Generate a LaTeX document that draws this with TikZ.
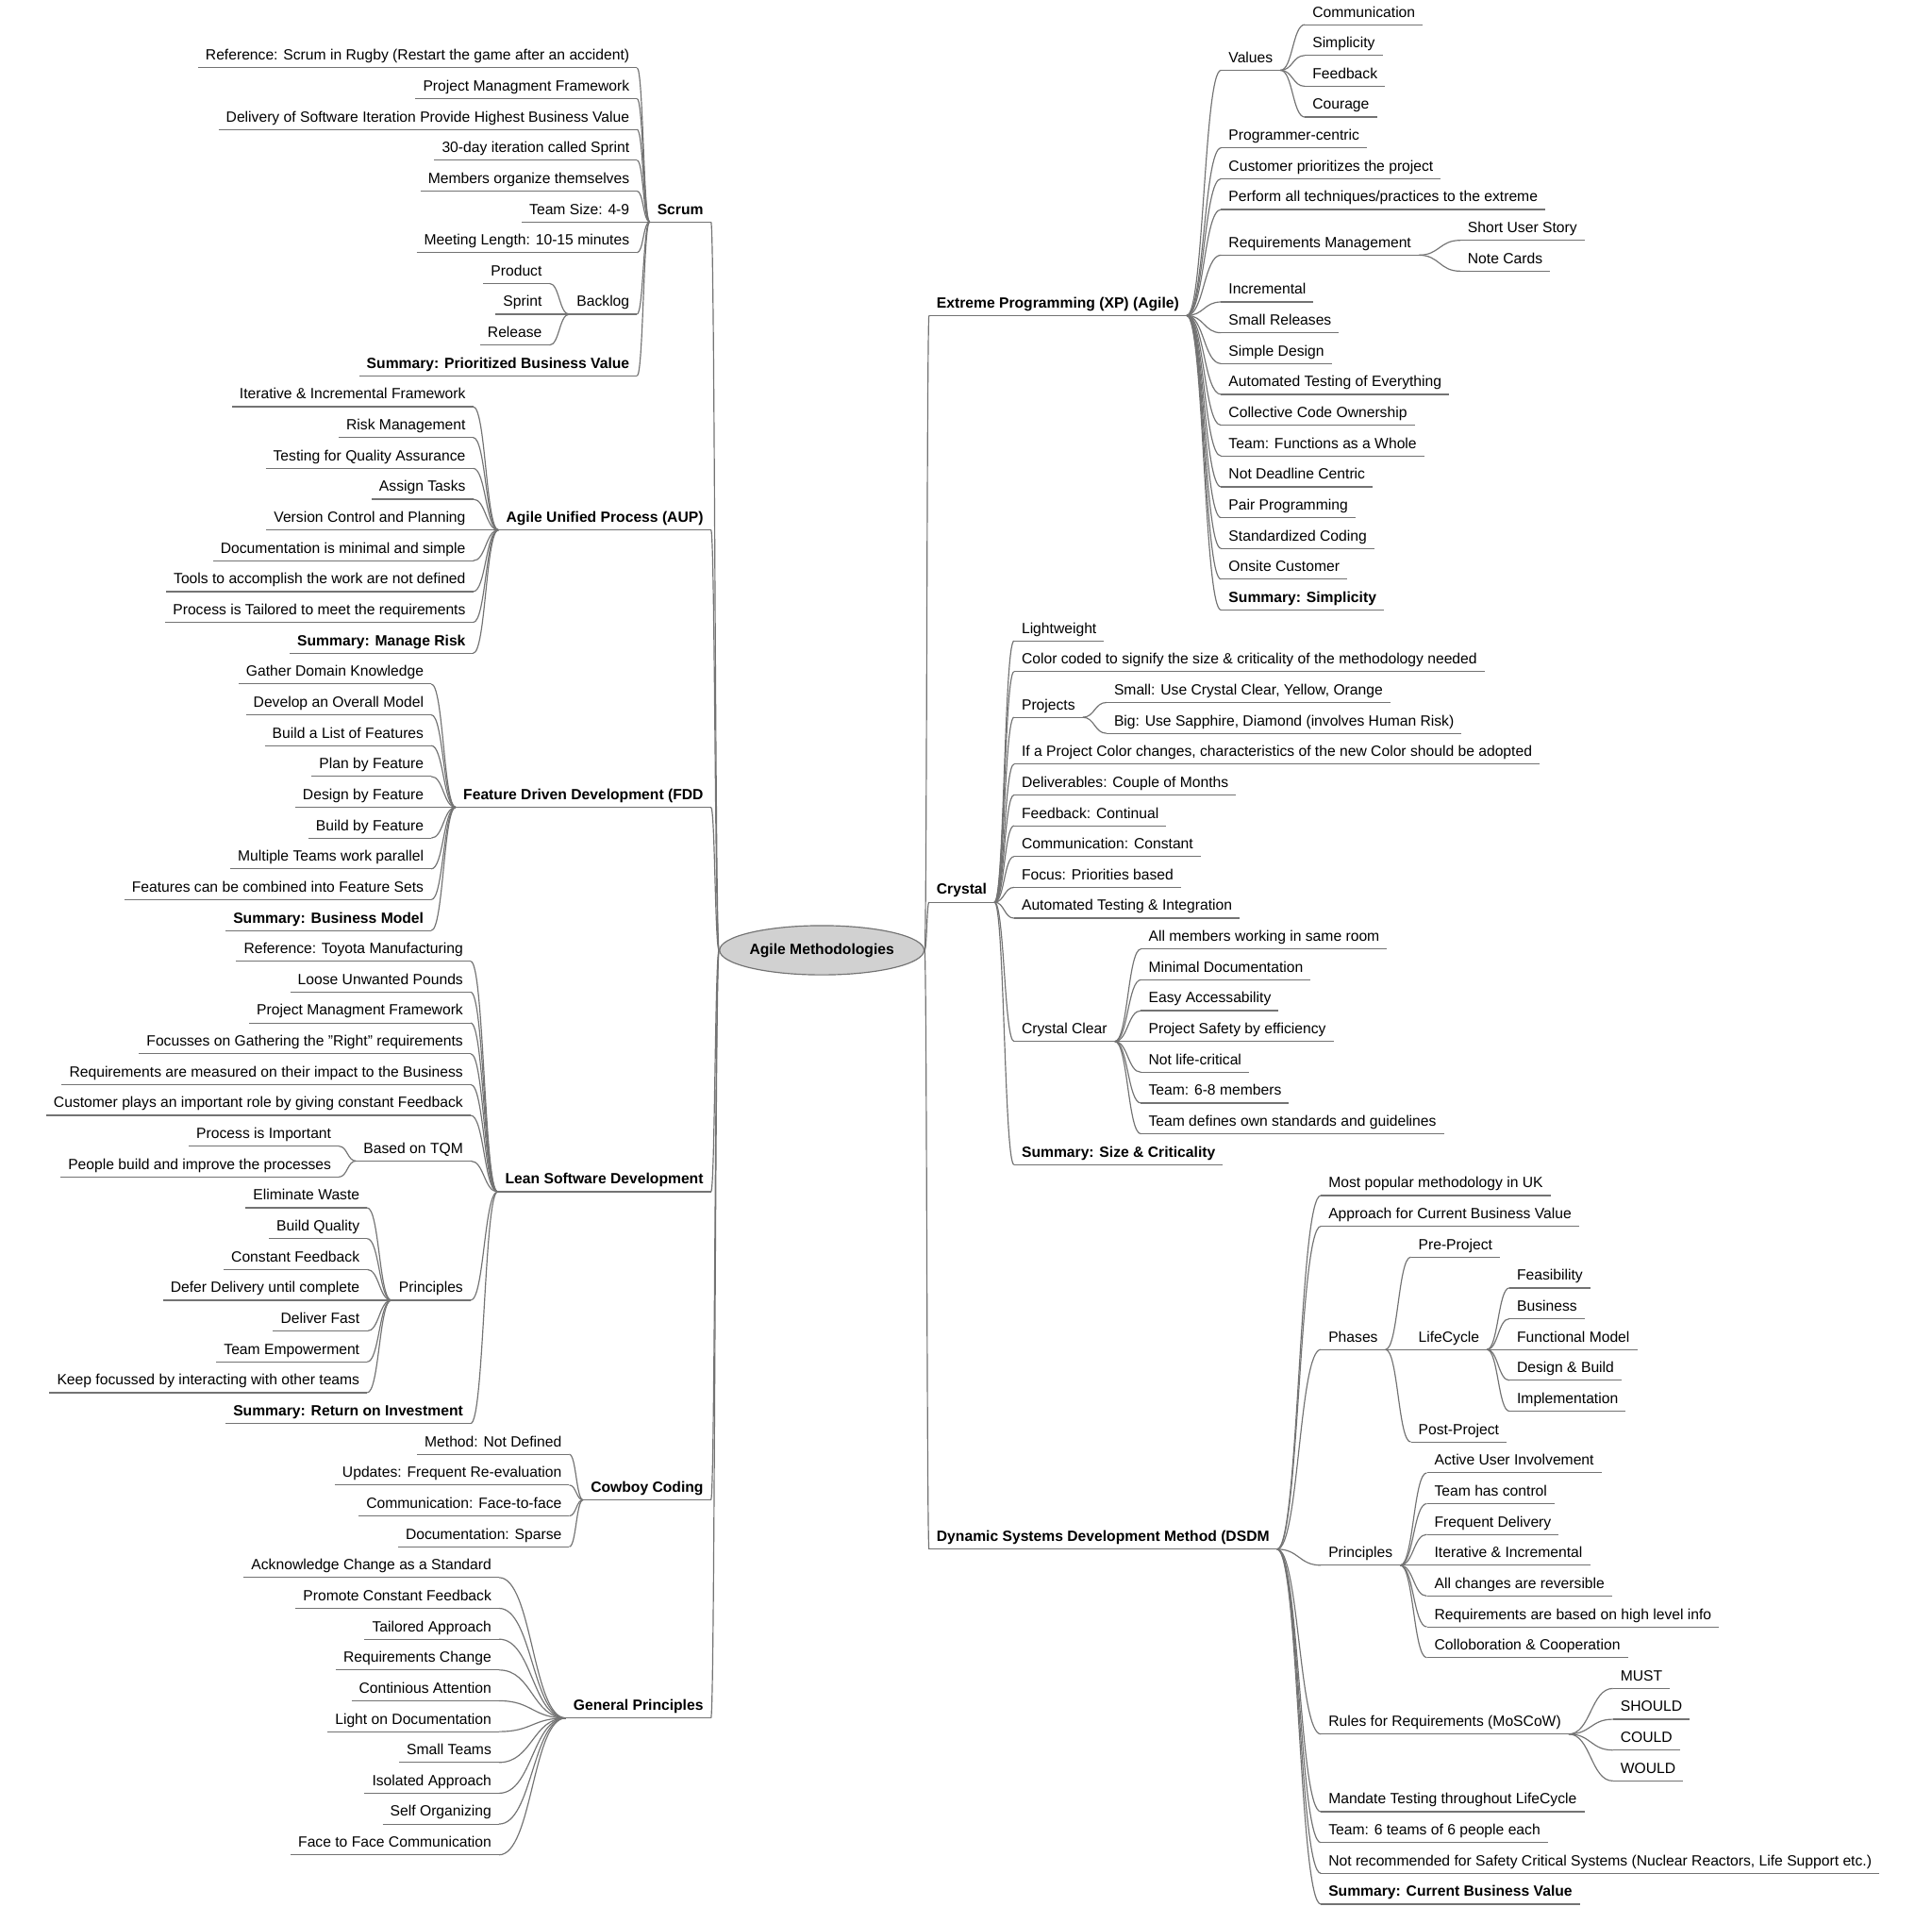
\documentclass[tikz,border=0pt]{standalone}
\usepackage{fontspec}
\setmainfont{Liberation Sans}
\usetikzlibrary{calc,shapes.geometric}
\tikzset{
  con/.style={draw=black!55, line width=0.9pt},
  lbl/.style={font=\fontsize{12}{14}\selectfont, inner xsep=6pt, inner ysep=3pt, text height=9pt, text depth=3pt,
    append after command={\pgfextra{\let\LN\tikzlastnode} (\LN.south west) edge[con] (\LN.south east)}},
  blbl/.style={lbl, font=\fontsize{12}{14}\selectfont\bfseries}
}
\newcommand\R[4]{\node[lbl,anchor=south west] (#1) at (#2,#3) {#4};}
\newcommand\RB[4]{\node[blbl,anchor=south west] (#1) at (#2,#3) {#4};}
\newcommand\Lf[4]{\node[lbl,anchor=south east] (#1) at (#2,#3) {#4};}
\newcommand\LB[4]{\node[blbl,anchor=south east] (#1) at (#2,#3) {#4};}
\newcommand\con[2]{\draw[con] let \p1=(#1), \p2=(#2), \n1={(\x2-\x1)/2} in (\p1) .. controls (\x1+\n1,\y1) and (\x2-\n1,\y2) .. (\p2);}
\begin{document}
\begin{tikzpicture}[x=1pt,y=-1pt]
\useasboundingbox (0,0) rectangle (1568,1547);
\node[ellipse, draw=black!55, line width=0.9pt, fill=black!18, minimum width=136pt, minimum height=40pt, inner sep=0pt, font=\fontsize{12}{14}\selectfont\bfseries] (ctr) at (667,771) {Agile Methodologies};
% ---------- Scrum
\LB{scrum}{577}{180}{Scrum}
\Lf{s1}{517}{55}{Reference: Scrum in Rugby (Restart the game after an accident)}
\Lf{s2}{517}{80}{Project Managment Framework}
\Lf{s3}{517}{105}{Delivery of Software Iteration Provide Highest Business Value}
\Lf{s4}{517}{130}{30-day iteration called Sprint}
\Lf{s5}{517}{155}{Members organize themselves}
\Lf{s6}{517}{180}{Team Size: 4-9}
\Lf{s7}{517}{205}{Meeting Length: 10-15 minutes}
\Lf{s8}{517}{255}{Backlog}
\LB{s9}{517}{305}{Summary: Prioritized Business Value}
\Lf{b1}{446}{230}{Product}
\Lf{b2}{446}{255}{Sprint}
\Lf{b3}{446}{280}{Release}
% ---------- AUP
\LB{aup}{577}{430}{Agile Unified Process (AUP)}
\Lf{a1}{384}{330}{Iterative \& Incremental Framework}
\Lf{a2}{384}{355}{Risk Management}
\Lf{a3}{384}{380}{Testing for Quality Assurance}
\Lf{a4}{384}{405}{Assign Tasks}
\Lf{a5}{384}{430}{Version Control and Planning}
\Lf{a6}{384}{455}{Documentation is minimal and simple}
\Lf{a7}{384}{480}{Tools to accomplish the work are not defined}
\Lf{a8}{384}{505}{Process is Tailored to meet the requirements}
\LB{a9}{384}{530}{Summary: Manage Risk}
% ---------- FDD
\LB{fdd}{577}{655}{Feature Driven Development (FDD}
\Lf{f1}{350}{555}{Gather Domain Knowledge}
\Lf{f2}{350}{580}{Develop an Overall Model}
\Lf{f3}{350}{605}{Build a List of Features}
\Lf{f4}{350}{630}{Plan by Feature}
\Lf{f5}{350}{655}{Design by Feature}
\Lf{f6}{350}{680}{Build by Feature}
\Lf{f7}{350}{705}{Multiple Teams work parallel}
\Lf{f8}{350}{730}{Features can be combined into Feature Sets}
\LB{f9}{350}{755}{Summary: Business Model}
% ---------- Lean
\LB{lean}{577}{967}{Lean Software Development}
\Lf{l1}{382}{780}{Reference: Toyota Manufacturing}
\Lf{l2}{382}{805}{Loose Unwanted Pounds}
\Lf{l3}{382}{830}{Project Managment Framework}
\Lf{l4}{382}{855}{Focusses on Gathering the "Right" requirements}
\Lf{l5}{382}{880}{Requirements are measured on their impact to the Business}
\Lf{l6}{382}{905}{Customer plays an important role by giving constant Feedback}
\Lf{l7}{382}{942}{Based on TQM}
\Lf{l8}{382}{1055}{Principles}
\LB{l9}{382}{1155}{Summary: Return on Investment}
\Lf{t1}{275}{930}{Process is Important}
\Lf{t2}{275}{955}{People build and improve the processes}
\Lf{p1}{298}{980}{Eliminate Waste}
\Lf{p2}{298}{1005}{Build Quality}
\Lf{p3}{298}{1030}{Constant Feedback}
\Lf{p4}{298}{1055}{Defer Delivery until complete}
\Lf{p5}{298}{1080}{Deliver Fast}
\Lf{p6}{298}{1105}{Team Empowerment}
\Lf{p7}{298}{1130}{Keep focussed by interacting with other teams}
% ---------- Cowboy
\LB{cow}{577}{1217}{Cowboy Coding}
\Lf{w1}{462}{1180}{Method: Not Defined}
\Lf{w2}{462}{1205}{Updates: Frequent Re-evaluation}
\Lf{w3}{462}{1230}{Communication: Face-to-face}
\Lf{w4}{462}{1255}{Documentation: Sparse}
% ---------- General
\LB{gen}{577}{1394}{General Principles}
\Lf{g1}{405}{1280}{Acknowledge Change as a Standard}
\Lf{g2}{405}{1305}{Promote Constant Feedback}
\Lf{g3}{405}{1330}{Tailored Approach}
\Lf{g4}{405}{1355}{Requirements Change}
\Lf{g5}{405}{1380}{Continious Attention}
\Lf{g6}{405}{1405}{Light on Documentation}
\Lf{g7}{405}{1430}{Small Teams}
\Lf{g8}{405}{1455}{Isolated Approach}
\Lf{g9}{405}{1480}{Self Organizing}
\Lf{g10}{405}{1505}{Face to Face Communication}
% ---------- XP
\RB{xp}{754}{256}{Extreme Programming (XP) (Agile)}
\R{x1}{991}{57}{Values}
\R{x2}{991}{120}{Programmer-centric}
\R{x3}{991}{145}{Customer prioritizes the project}
\R{x4}{991}{170}{Perform all techniques/practices to the extreme}
\R{x5}{991}{207}{Requirements Management}
\R{x6}{991}{245}{Incremental}
\R{x7}{991}{270}{Small Releases}
\R{x8}{991}{295}{Simple Design}
\R{x9}{991}{320}{Automated Testing of Everything}
\R{x10}{991}{345}{Collective Code Ownership}
\R{x11}{991}{370}{Team: Functions as a Whole}
\R{x12}{991}{395}{Not Deadline Centric}
\R{x13}{991}{420}{Pair Programming}
\R{x14}{991}{445}{Standardized Coding}
\R{x15}{991}{470}{Onsite Customer}
\RB{x16}{991}{495}{Summary: Simplicity}
\R{v1}{1059}{20}{Communication}
\R{v2}{1059}{45}{Simplicity}
\R{v3}{1059}{70}{Feedback}
\R{v4}{1059}{95}{Courage}
\R{r1}{1185}{195}{Short User Story}
\R{r2}{1185}{220}{Note Cards}
% ---------- Crystal
\RB{cry}{754}{732}{Crystal}
\R{c1}{823}{520}{Lightweight}
\R{c2}{823}{545}{Color coded to signify the size \& criticality of the methodology needed}
\R{c3}{823}{582}{Projects}
\R{c4}{823}{620}{If a Project Color changes, characteristics of the new Color should be adopted}
\R{c5}{823}{645}{Deliverables: Couple of Months}
\R{c6}{823}{670}{Feedback: Continual}
\R{c7}{823}{695}{Communication: Constant}
\R{c8}{823}{720}{Focus: Priorities based}
\R{c9}{823}{745}{Automated Testing \& Integration}
\R{c10}{823}{845}{Crystal Clear}
\RB{c11}{823}{945}{Summary: Size \& Criticality}
\R{pj1}{898}{570}{Small: Use Crystal Clear, Yellow, Orange}
\R{pj2}{898}{595}{Big: Use Sapphire, Diamond (involves Human Risk)}
\R{cc1}{926}{770}{All members working in same room}
\R{cc2}{926}{795}{Minimal Documentation}
\R{cc3}{926}{820}{Easy Accessability}
\R{cc4}{926}{845}{Project Safety by efficiency}
\R{cc5}{926}{870}{Not life-critical}
\R{cc6}{926}{895}{Team: 6-8 members}
\R{cc7}{926}{920}{Team defines own standards and guidelines}
% ---------- DSDM
\RB{dsdm}{754}{1257}{Dynamic Systems Development Method (DSDM}
\R{d1}{1072}{970}{Most popular methodology in UK}
\R{d2}{1072}{995}{Approach for Current Business Value}
\R{d3}{1072}{1095}{Phases}
\R{d4}{1072}{1270}{Principles}
\R{d5}{1072}{1407}{Rules for Requirements (MoSCoW)}
\R{d6}{1072}{1470}{Mandate Testing throughout LifeCycle}
\R{d7}{1072}{1495}{Team: 6 teams of 6 people each}
\R{d8}{1072}{1520}{Not recommended for Safety Critical Systems (Nuclear Reactors, Life Support etc.)}
\RB{d9}{1072}{1545}{Summary: Current Business Value}
\R{ph1}{1145}{1020}{Pre-Project}
\R{ph2}{1145}{1095}{LifeCycle}
\R{ph3}{1145}{1170}{Post-Project}
\R{lc1}{1225}{1045}{Feasibility}
\R{lc2}{1225}{1070}{Business}
\R{lc3}{1225}{1095}{Functional Model}
\R{lc4}{1225}{1120}{Design \& Build}
\R{lc5}{1225}{1145}{Implementation}
\R{pr1}{1158}{1195}{Active User Involvement}
\R{pr2}{1158}{1220}{Team has control}
\R{pr3}{1158}{1245}{Frequent Delivery}
\R{pr4}{1158}{1270}{Iterative \& Incremental}
\R{pr5}{1158}{1295}{All changes are reversible}
\R{pr6}{1158}{1320}{Requirements are based on high level info}
\R{pr7}{1158}{1345}{Colloboration \& Cooperation}
\R{m1}{1309}{1370}{MUST}
\R{m2}{1309}{1395}{SHOULD}
\R{m3}{1309}{1420}{COULD}
\R{m4}{1309}{1445}{WOULD}
% ---------- connectors
\foreach \ch in {scrum,aup,fdd,lean,cow,gen} {\con{ctr.west}{\ch.south east}}
\foreach \ch in {xp,cry,dsdm} {\con{ctr.east}{\ch.south west}}
\foreach \pa/\ch in {scrum/s1,scrum/s2,scrum/s3,scrum/s4,scrum/s5,scrum/s6,scrum/s7,scrum/s8,scrum/s9,s8/b1,s8/b2,s8/b3,
  aup/a1,aup/a2,aup/a3,aup/a4,aup/a5,aup/a6,aup/a7,aup/a8,aup/a9,
  fdd/f1,fdd/f2,fdd/f3,fdd/f4,fdd/f5,fdd/f6,fdd/f7,fdd/f8,fdd/f9,
  lean/l1,lean/l2,lean/l3,lean/l4,lean/l5,lean/l6,lean/l7,lean/l8,lean/l9,l7/t1,l7/t2,
  l8/p1,l8/p2,l8/p3,l8/p4,l8/p5,l8/p6,l8/p7,
  cow/w1,cow/w2,cow/w3,cow/w4,
  gen/g1,gen/g2,gen/g3,gen/g4,gen/g5,gen/g6,gen/g7,gen/g8,gen/g9,gen/g10}
  {\con{\pa.south west}{\ch.south east}}
\foreach \pa/\ch in {xp/x1,xp/x2,xp/x3,xp/x4,xp/x5,xp/x6,xp/x7,xp/x8,xp/x9,xp/x10,xp/x11,xp/x12,xp/x13,xp/x14,xp/x15,xp/x16,
  x1/v1,x1/v2,x1/v3,x1/v4,x5/r1,x5/r2,
  cry/c1,cry/c2,cry/c3,cry/c4,cry/c5,cry/c6,cry/c7,cry/c8,cry/c9,cry/c10,cry/c11,c3/pj1,c3/pj2,
  c10/cc1,c10/cc2,c10/cc3,c10/cc4,c10/cc5,c10/cc6,c10/cc7,
  dsdm/d1,dsdm/d2,dsdm/d3,dsdm/d4,dsdm/d5,dsdm/d6,dsdm/d7,dsdm/d8,dsdm/d9,
  d3/ph1,d3/ph2,d3/ph3,ph2/lc1,ph2/lc2,ph2/lc3,ph2/lc4,ph2/lc5,
  d4/pr1,d4/pr2,d4/pr3,d4/pr4,d4/pr5,d4/pr6,d4/pr7,d5/m1,d5/m2,d5/m3,d5/m4}
  {\con{\pa.south east}{\ch.south west}}
\end{tikzpicture}
\end{document}
